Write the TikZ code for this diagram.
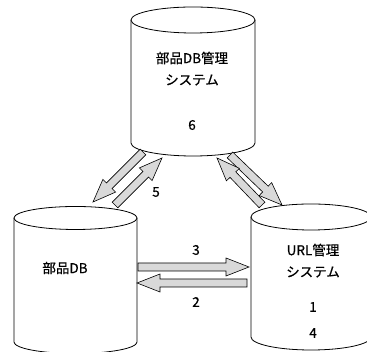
\documentclass[tikz,border=0pt]{standalone}
\usepackage{fontspec}
\setmainfont{Noto Sans CJK JP}[FakeBold=0.6]
\usetikzlibrary{calc}
\tikzset{
  cyl/.style={draw=black, line width=0.8pt, fill=white},
  lbl/.style={font=\fontsize{13.5}{16}\selectfont, inner sep=0pt, anchor=center},
  fatarr/.style={draw=black, line width=0.6pt, fill=gray!30, line join=miter}
}
\newcommand\cylinder[5]{% cx, rx, top y, bottom y, ry
  \draw[cyl] (#1-#2,#3) -- (#1-#2,#4) arc[start angle=180, end angle=360, x radius=#2, y radius=#5] -- (#1+#2,#3);
  \draw[cyl] (#1,#3) ellipse [x radius=#2, y radius=#5];
}
\newcommand\fatarrow[2]{% from #1 to #2 (named coordinates)
  \coordinate (fh) at ($(#2)!23pt!(#1)$);
  \draw[fatarr] ($(#1)!4pt!90:(#2)$) -- ($(fh)!4pt!-90:(#1)$) -- ($(fh)!9pt!-90:(#1)$) -- (#2)
     -- ($(fh)!9pt!90:(#1)$) -- ($(fh)!4pt!90:(#1)$) -- ($(#1)!4pt!-90:(#2)$) -- cycle;
}
\begin{document}
\begin{tikzpicture}[x=1pt,y=1pt]
\useasboundingbox (0,0) rectangle (367,352);
\clip (0,0) rectangle (367,352);
% cylinders
\cylinder{193}{62}{332}{209}{13}
\cylinder{75.5}{61.5}{134}{10}{11.5}
\cylinder{311}{60}{135}{15}{13}
% texts
\node[lbl] (t1) at (192,294) {部品DB管理};
\node[lbl] (t2) at (192,272) {システム};
\node[lbl] (t3) at (192,227) {6};
\node[lbl] (l1) at (65,84) {部品DB};
\node[lbl] (r1) at (313,102) {URL管理};
\node[lbl] (r2) at (313,80) {システム};
\node[lbl] (r3) at (313,45) {1};
\node[lbl] (r4) at (313,19) {4};
\node[lbl] (n3) at (196,102) {3};
\node[lbl] (n2) at (196,50) {2};
\node[lbl] (n5) at (156,160) {5};
% arrow end points
\coordinate (as) at (143,200); \coordinate (ae) at (93,150);
\coordinate (bs) at (115,147); \coordinate (be) at (162,194);
\coordinate (cs) at (230,197); \coordinate (ce) at (282,147);
\coordinate (ds) at (262,147); \coordinate (de) at (217,194);
\coordinate (es) at (138,85);  \coordinate (ee) at (249,85);
\coordinate (fs) at (247,69);  \coordinate (fe) at (137,69);
\fatarrow{as}{ae}
\fatarrow{bs}{be}
\fatarrow{cs}{ce}
\fatarrow{ds}{de}
\fatarrow{es}{ee}
\fatarrow{fs}{fe}
\end{tikzpicture}
\end{document}
